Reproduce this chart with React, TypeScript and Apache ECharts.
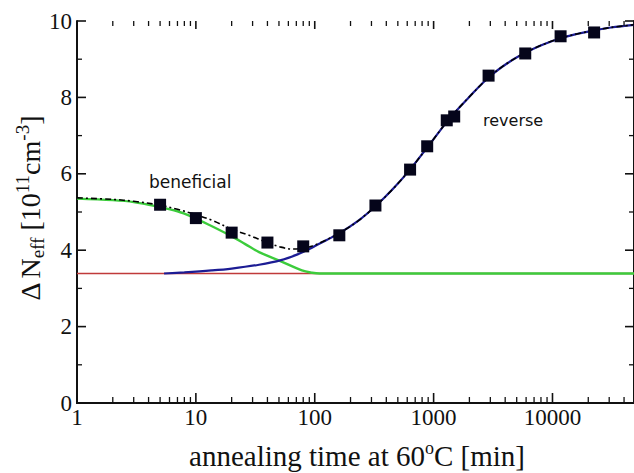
import React, { useEffect, useRef } from 'react';
import * as echarts from 'echarts';

// ---- axes ----
const X_MIN = 1;
const X_MAX = 48500;
const Y_MIN = 0;
const Y_MAX = 10;
const Y_STEP = 2;
const xMajorTicks = [1, 10, 100, 1000, 10000];
const xMinorTicks = [
  2, 3, 4, 5, 6, 7, 8, 9,
  20, 30, 40, 50, 60, 70, 80, 90,
  200, 300, 400, 500, 600, 700, 800, 900,
  2000, 3000, 4000, 5000, 6000, 7000, 8000, 9000,
  20000, 30000, 40000,
];
const yMajorTicks = [0, 2, 4, 6, 8, 10];
const yMinorTicks = [1, 3, 5, 7, 9];

// ---- measured points (squares) ----
const measX = [5, 10, 20, 40, 80, 161, 324, 634, 883, 1290, 1490, 2900, 5900, 11700, 22400];
const measY = [5.19, 4.84, 4.46, 4.20, 4.10, 4.39, 5.17, 6.11, 6.72, 7.40, 7.50, 8.57, 9.15, 9.60, 9.70];

// ---- stable damage (red) ----
const redX = [1, 48500];
const redY = [3.39, 3.39];

// ---- beneficial annealing (green) ----
const greenX = [1, 2, 3, 4.8, 7, 9.2, 13, 19, 26, 34, 52, 78, 95, 110, 48500];
const greenY = [5.35, 5.31, 5.26, 5.14, 5.02, 4.88, 4.66, 4.40, 4.16, 3.95, 3.71, 3.47, 3.41, 3.39, 3.39];

// ---- reverse annealing (blue) ----
const blueX = [5.4, 8, 13.5, 20, 34, 52, 73, 90, 108, 160, 230, 324, 460, 640, 900, 1290, 1500, 1950, 2900, 4200, 6000, 8250, 11700, 16000, 22000, 31000, 48500];
const blueY = [3.39, 3.42, 3.47, 3.52, 3.62, 3.74, 3.90, 4.03, 4.16, 4.44, 4.76, 5.15, 5.62, 6.13, 6.72, 7.36, 7.60, 7.98, 8.52, 8.90, 9.18, 9.38, 9.55, 9.66, 9.75, 9.83, 9.90];

// ---- total fit (black dash-dot) ----
const totalX = [1, 2, 3, 5, 7, 10, 14, 20, 28, 40, 52, 65, 80, 95, 110, 160, 230, 324, 460, 640, 900, 1290, 1500, 1950, 2900, 4200, 6000, 8250, 11700, 16000, 22000, 31000, 48500];
const totalY = [5.37, 5.33, 5.28, 5.18, 5.07, 4.93, 4.77, 4.55, 4.39, 4.20, 4.08, 4.03, 4.05, 4.11, 4.19, 4.44, 4.76, 5.15, 5.62, 6.13, 6.72, 7.36, 7.60, 7.98, 8.52, 8.90, 9.18, 9.38, 9.55, 9.66, 9.75, 9.83, 9.90];

const zip = (xs: number[], ys: number[]) => xs.map((x, i) => [x, ys[i]]);

const SERIF = '"Liberation Serif", "Times New Roman", serif';
const SANS = '"DejaVu Sans", Verdana, sans-serif';
const INK = '#111';

// tick marks drawn as thin rects positioned through the axes' scales
const tickSeries = (
  data: number[][],
  size: [number, number],
  offset: [number, number],
) => ({
  type: 'scatter',
  data,
  symbol: 'rect',
  symbolSize: size,
  symbolOffset: offset,
  itemStyle: { color: INK, opacity: 1 },
  silent: true,
  clip: false,
  z: 10,
});

export default function App() {
  const ref = useRef<HTMLDivElement>(null);
  useEffect(() => {
    if (!ref.current) return;
    const chart = echarts.init(ref.current, undefined, { renderer: 'svg' });
    const option: any = {
      animation: false,
      backgroundColor: '#fff',
      grid: { left: 77, top: 21, right: -3, bottom: 70, containLabel: false },
      xAxis: [
        {
          type: 'log',
          min: X_MIN,
          max: X_MAX,
          logBase: 10,
          position: 'bottom',
          splitLine: { show: false },
          axisLine: { show: true, lineStyle: { color: INK, width: 2 } },
          axisTick: { show: false },
          axisLabel: {
            show: true,
            margin: 3,
            color: INK,
            fontFamily: SERIF,
            fontSize: 23,
            showMaxLabel: false,
            formatter: (v: number) => String(Math.round(v)),
          },
        },
        {
          type: 'log',
          min: X_MIN,
          max: X_MAX,
          logBase: 10,
          position: 'top',
          splitLine: { show: false },
          axisLine: { show: true, lineStyle: { color: INK, width: 2 } },
          axisTick: { show: false },
          axisLabel: { show: false },
        },
      ],
      yAxis: [
        {
          type: 'value',
          position: 'left',
          min: Y_MIN,
          max: Y_MAX,
          interval: Y_STEP,
          splitLine: { show: false },
          axisLine: { show: true, lineStyle: { color: INK, width: 2 } },
          axisTick: { show: false },
          axisLabel: { margin: 5, color: INK, fontFamily: SERIF, fontSize: 23 },
        },
        {
          type: 'value',
          position: 'right',
          min: Y_MIN,
          max: Y_MAX,
          interval: Y_STEP,
          splitLine: { show: false },
          axisLine: { show: true, lineStyle: { color: INK, width: 2 } },
          axisTick: { show: false },
          axisLabel: { show: false },
        },
      ],
      series: [
        {
          name: 'stable',
          type: 'line',
          data: zip(redX, redY),
          showSymbol: false,
          lineStyle: { color: '#c03a3a', width: 1.6 },
          z: 2,
        },
        {
          name: 'beneficial',
          type: 'line',
          data: zip(greenX, greenY),
          showSymbol: false,
          smooth: 0.35,
          lineStyle: { color: '#3ccc3c', width: 2.4 },
          z: 3,
        },
        {
          name: 'reverse',
          type: 'line',
          data: zip(blueX, blueY),
          showSymbol: false,
          smooth: 0.35,
          lineStyle: { color: '#1c1c94', width: 2.2 },
          z: 4,
        },
        {
          name: 'total',
          type: 'line',
          data: zip(totalX, totalY),
          showSymbol: false,
          smooth: 0.35,
          lineStyle: { color: '#000', width: 1.6, type: [6, 3, 2, 3] },
          z: 5,
        },
        {
          name: 'measured',
          type: 'scatter',
          data: zip(measX, measY),
          symbol: 'rect',
          symbolSize: 12,
          itemStyle: { color: '#05051a', opacity: 1 },
          z: 6,
        },
        // bottom ticks
        tickSeries(xMajorTicks.map((v) => [v, Y_MIN]), [1.6, 10], [0, -5]),
        tickSeries(xMinorTicks.map((v) => [v, Y_MIN]), [1.3, 6], [0, -3]),
        // top ticks
        tickSeries(xMajorTicks.map((v) => [v, Y_MAX]), [1.6, 8], [0, 4]),
        tickSeries(xMinorTicks.map((v) => [v, Y_MAX]), [1.3, 5], [0, 2.5]),
        // left ticks
        tickSeries(yMajorTicks.map((v) => [X_MIN, v]), [9, 1.6], [4.5, 0]),
        tickSeries(yMinorTicks.map((v) => [X_MIN, v]), [5, 1.3], [2.5, 0]),
        // right ticks
        tickSeries(yMajorTicks.map((v) => [X_MAX, v]), [9, 1.6], [-4.5, 0]),
        tickSeries(yMinorTicks.map((v) => [X_MAX, v]), [5, 1.3], [-2.5, 0]),
      ],
      graphic: [
        {
          type: 'text',
          x: 149,
          y: 182,
          style: { text: 'beneficial', font: `17px ${SANS}`, fill: INK, align: 'left', verticalAlign: 'middle' },
        },
        {
          type: 'text',
          x: 483,
          y: 120,
          style: { text: 'reverse', font: `16px ${SANS}`, fill: INK, align: 'left', verticalAlign: 'middle' },
        },
        {
          type: 'text',
          x: 357,
          y: 456,
          style: {
            text: '{m|annealing time at 60}{s|o}{m|C [min]}',
            align: 'center',
            verticalAlign: 'middle',
            rich: {
              m: { fontFamily: SERIF, fontSize: 29, fill: INK, lineHeight: 34 },
              s: { fontFamily: SERIF, fontSize: 18, fill: INK, lineHeight: 22, verticalAlign: 'top' },
            },
          },
        },
        {
          type: 'text',
          x: 30,
          y: 208,
          rotation: Math.PI / 2,
          style: {
            text: '{d|Δ}{m|N}{b|eff}{m| [10}{p|11}{m|cm}{p|-3}{m|]}',
            align: 'center',
            verticalAlign: 'middle',
            rich: {
              d: { fontFamily: SERIF, fontSize: 28, fill: INK, lineHeight: 34, padding: [0, 4, 0, 0] },
              m: { fontFamily: SERIF, fontSize: 28, fill: INK, lineHeight: 34 },
              b: { fontFamily: SERIF, fontSize: 19, fill: INK, lineHeight: 18, verticalAlign: 'bottom' },
              p: { fontFamily: SERIF, fontSize: 19, fill: INK, lineHeight: 20, verticalAlign: 'top' },
            },
          },
        },
      ],
    };
    chart.setOption(option);
    return () => chart.dispose();
  }, []);
  return (
    <div
      ref={ref}
      style={{ position: 'fixed', left: 0, top: 0, width: 634, height: 473, background: '#fff' }}
    />
  );
}
